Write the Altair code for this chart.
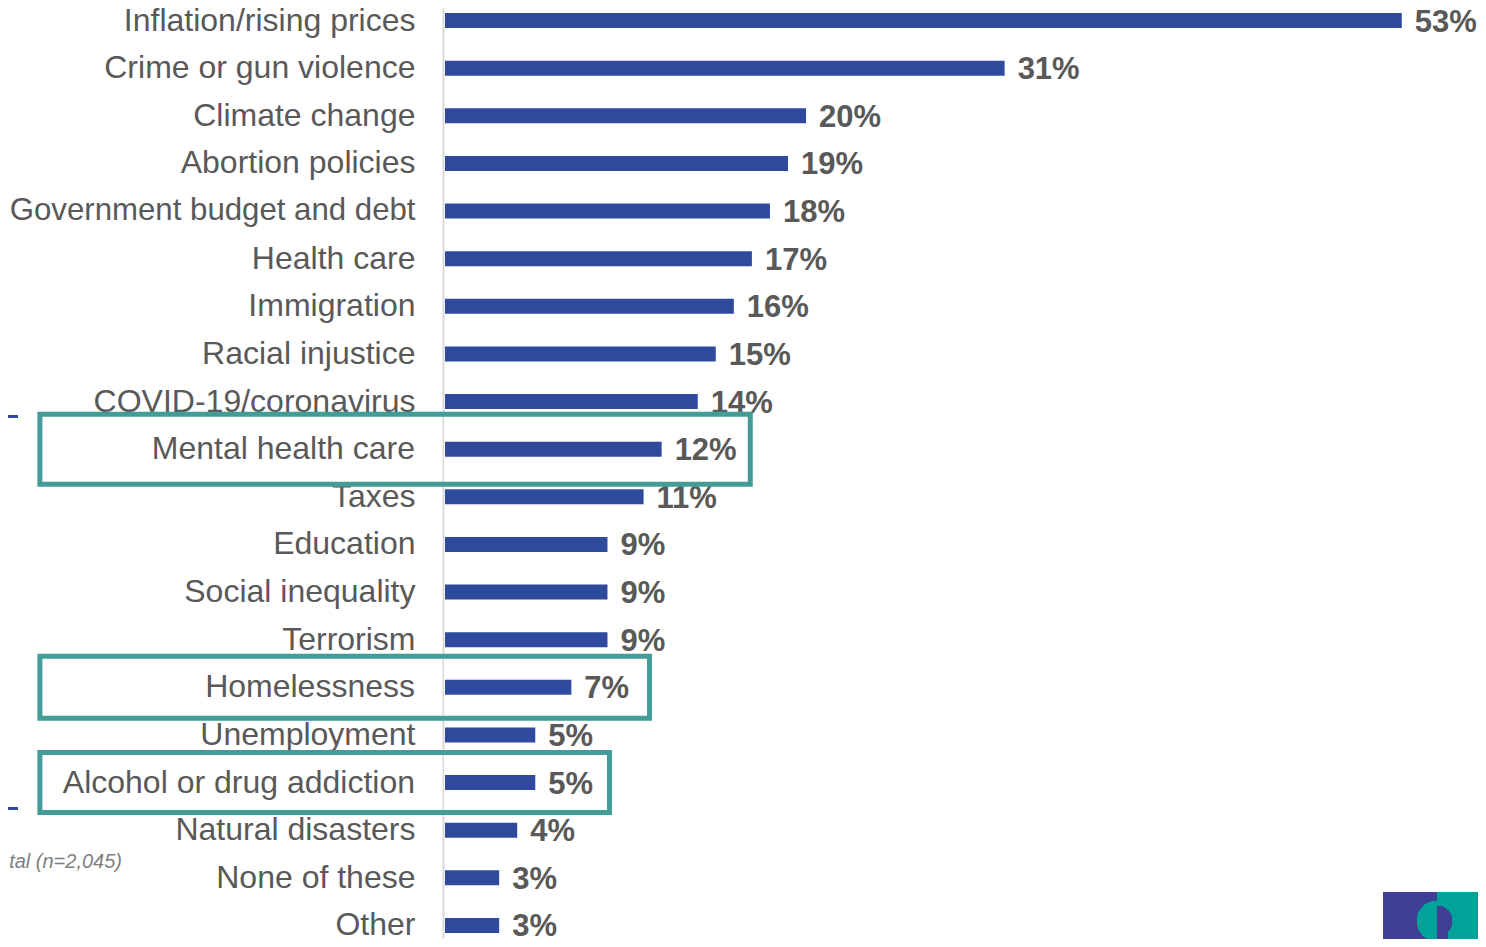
import altair as alt
import pandas as pd

categories = [
    "Inflation/rising prices", "Crime or gun violence", "Climate change",
    "Abortion policies", "Government budget and debt", "Health care",
    "Immigration", "Racial injustice", "COVID-19/coronavirus",
    "Mental health care", "Taxes", "Education", "Social inequality",
    "Terrorism", "Homelessness", "Unemployment", "Alcohol or drug addiction",
    "Natural disasters", "None of these", "Other",
]
values = [53, 31, 20, 19, 18, 17, 16, 15, 14, 12, 11, 9, 9, 9, 7, 5, 5, 4, 3, 3]

# highlighted rows (teal boxes)
box_categories = ["Mental health care", "Homelessness", "Alcohol or drug addiction"]
box_left = [-22.44, -22.44, -22.44]
box_right = [16.91, 11.33, 9.11]
box_height = [70, 62, 60]

note_text = "tal (n=2,045)"

BAR = "#2F4A9D"
GRAY = "#595959"
TEAL = "#439C97"
FONT = "Liberation Sans"

df = pd.DataFrame({
    "cat": categories,
    "v": values,
    "lab": [f"{v}%" for v in values],
})
hl_df = df[df["cat"].isin(box_categories)].reset_index(drop=True)
boxes = pd.DataFrame({"cat": box_categories, "x1": box_left, "x2": box_right,
                      "h": box_height})
# white fill of the boxes, split so the axis line stays visible inside
fill_left = pd.DataFrame({"cat": box_categories, "x1": box_left,
                          "x2": [-0.17] * 3, "h": box_height})
fill_right = pd.DataFrame({"cat": box_categories, "x1": [-0.05] * 3,
                           "x2": box_right, "h": box_height})

yscale = alt.Scale(domain=categories, paddingInner=0.685, paddingOuter=0.105)
xscale = alt.Scale(domain=[0, 57], nice=False, zero=True)

y_axis = alt.Axis(
    title=None,
    labelFontSize=alt.ConditionalAxisNumber(
        condition={"test": "datum.value == 'Government budget and debt'", "value": 31.2},
        value=32,
    ),
    labelColor=GRAY,
    labelFont=FONT,
    labelPadding=28, offset=2, ticks=False, domainColor="#D9D9D9", domainWidth=2,
    labelLimit=600, grid=False,
)

bars = alt.Chart(df).mark_bar(color=BAR).encode(
    y=alt.Y("cat:N", scale=yscale, axis=y_axis),
    x=alt.X("v:Q", scale=xscale, axis=None),
)


def value_layer(data):
    return alt.Chart(data).mark_text(
        align="left", baseline="middle", dx=13, dy=2, fontSize=31,
        fontWeight="bold", color=GRAY, font=FONT,
    ).encode(
        y=alt.Y("cat:N", scale=yscale),
        x=alt.X("v:Q", scale=xscale),
        text="lab:N",
    )


labels = value_layer(df)


def box_layer(data, **mark):
    return alt.Chart(data).mark_bar(clip=False, **mark).encode(
        y=alt.Y("cat:N", scale=yscale),
        x=alt.X("x1:Q", scale=xscale),
        x2="x2:Q",
        size=alt.Size("h:Q", scale=None, legend=None),
    )


fill_l = box_layer(fill_left, color="white")
fill_r = box_layer(fill_right, color="white")
outline = box_layer(boxes, fillOpacity=0, stroke=TEAL, strokeWidth=5)

hl_bars = alt.Chart(hl_df).mark_bar(color=BAR).encode(
    y=alt.Y("cat:N", scale=yscale),
    x=alt.X("v:Q", scale=xscale),
)
hl_values = value_layer(hl_df)
hl_names = alt.Chart(hl_df).mark_text(
    align="right", baseline="middle", fontSize=32, color=GRAY, font=FONT,
).encode(
    y=alt.Y("cat:N", scale=yscale),
    x=alt.value(-30),
    text="cat:N",
)

bracket_top = alt.Chart(df).mark_rule(color=BAR, strokeWidth=3).encode(
    x=alt.value(-445), x2=alt.value(-427), y=alt.value(408.5)
)
bracket_bot = alt.Chart(df).mark_rule(color=BAR, strokeWidth=3).encode(
    x=alt.value(-445), x2=alt.value(-427), y=alt.value(800.5)
)

note = alt.Chart(pd.DataFrame({"t": [note_text]})).mark_text(
    align="right", baseline="middle", fontSize=20, fontStyle="italic",
    color="#7F7F7F", font=FONT,
).encode(x=alt.value(-323), y=alt.value(854), text="t:N")

logo_left = alt.Chart(df).mark_rect(color="#3E3F95").encode(
    x=alt.value(938), x2=alt.value(992), y=alt.value(884), y2=alt.value(940)
)
logo_right = alt.Chart(df).mark_rect(color="#00A29A").encode(
    x=alt.value(992), x2=alt.value(1045), y=alt.value(884), y2=alt.value(940)
)
head_back = alt.Chart(df).mark_arc(
    color="#00A29A", theta=3.1416, theta2=6.2832, radius=20
).encode(x=alt.value(992), y=alt.value(913))
head_face = alt.Chart(df).mark_arc(
    color="#3E3F95", theta=0, theta2=3.1416, radius=15
).encode(x=alt.value(992), y=alt.value(913))
neck = alt.Chart(df).mark_rect(color="#3E3F95").encode(
    x=alt.value(992), x2=alt.value(1003), y=alt.value(913), y2=alt.value(940)
)

chart = alt.layer(
    bars, labels, fill_l, fill_r, outline,
    hl_bars, hl_values, hl_names,
    bracket_top, bracket_bot, note,
    logo_left, logo_right, head_back, head_face, neck,
).properties(
    width=1029, height=930,
    padding={"left": 437, "top": 0, "right": 4, "bottom": 1},
    autosize=alt.AutoSizeParams(type="none"),
    background="white",
).configure_view(stroke=None)

chart.save("out.html", embed_options={"renderer": "svg", "actions": False})
